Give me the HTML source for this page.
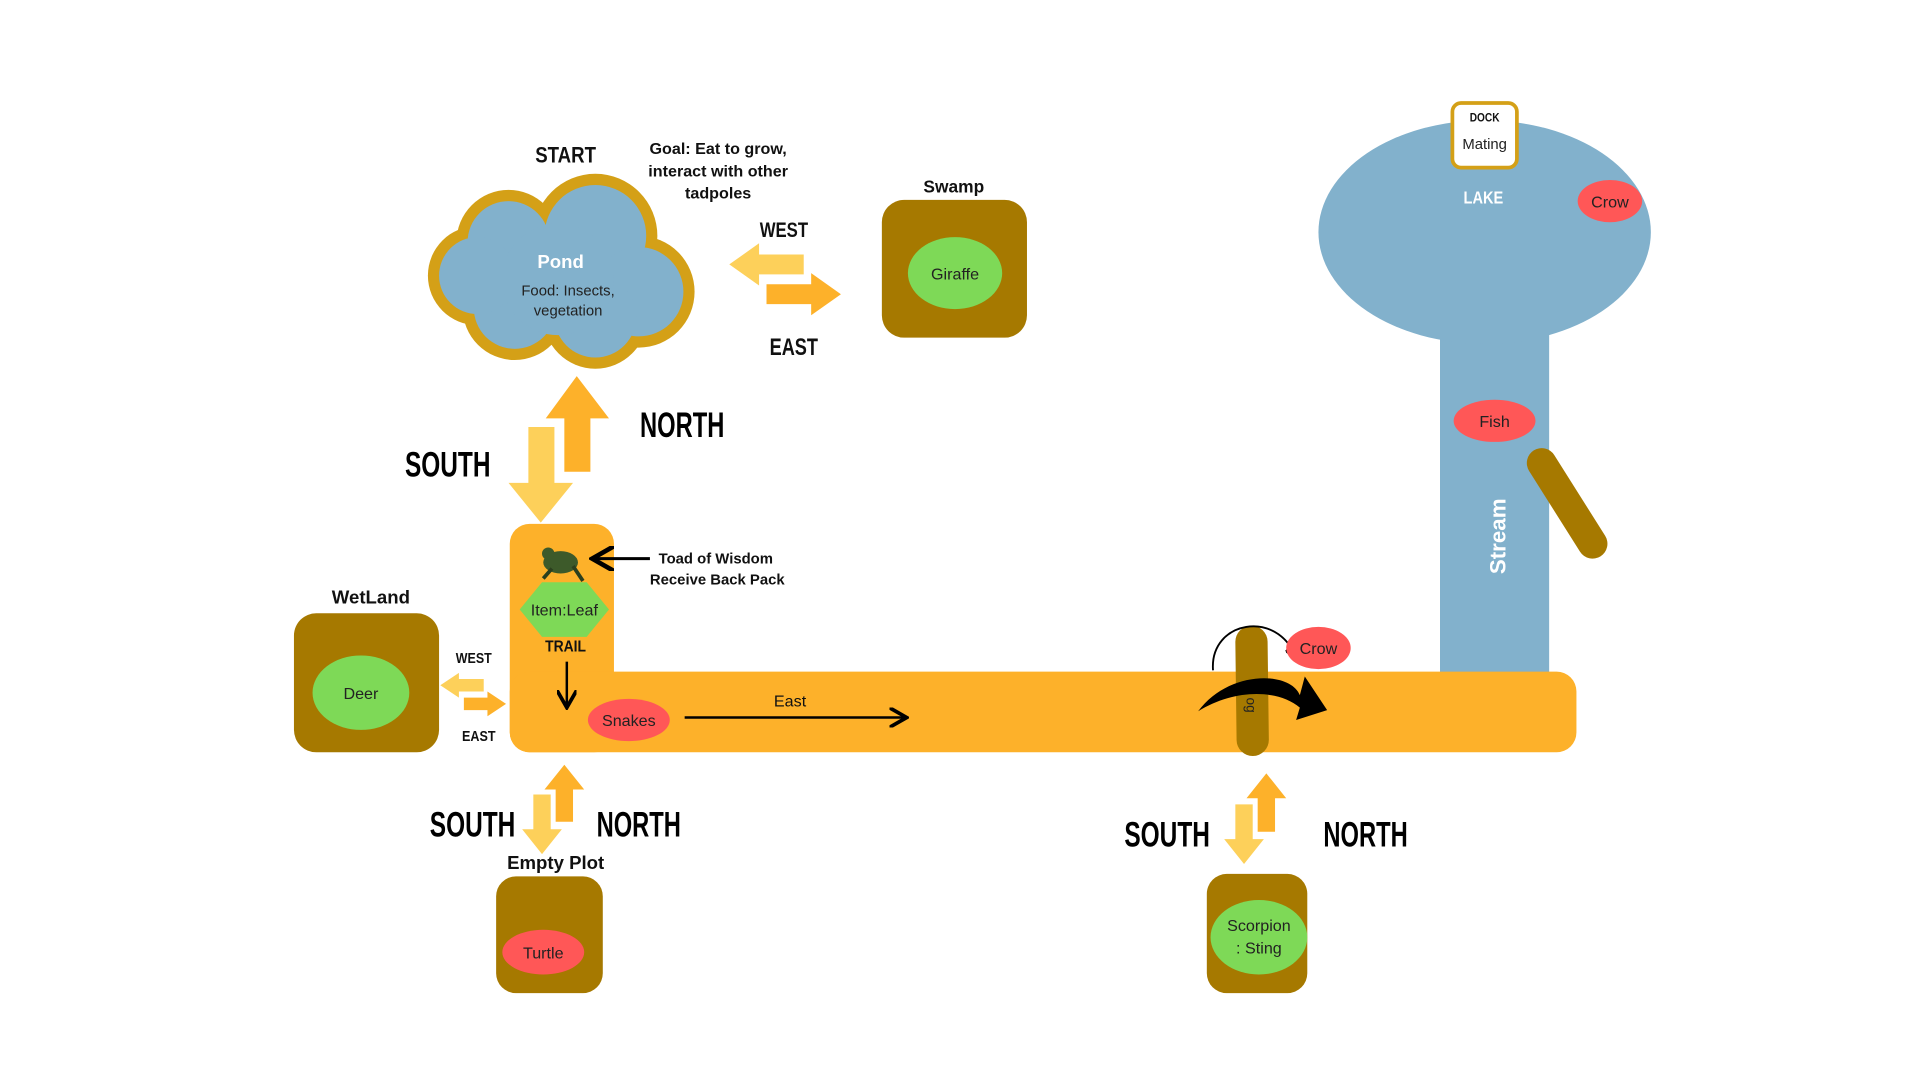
<!DOCTYPE html>
<html><head><meta charset="utf-8"><style>
html,body{margin:0;padding:0;background:#fff;width:1920px;height:1080px;overflow:hidden}
svg{display:block}
text{font-family:"Liberation Sans",sans-serif}
.h{font-weight:bold;fill:#111}
.big{font-size:28px;font-weight:bold;fill:#000}
</style></head><body>
<svg width="1920" height="1080" viewBox="0 0 1548 870" preserveAspectRatio="none">
<defs>
<marker id="ah" markerWidth="8" markerHeight="8" refX="6" refY="4" orient="auto"><path d="M0,0 L7,4 L0,8" fill="none" stroke="#000" stroke-width="1.5"/></marker>
</defs>
<g>
<rect x="1161" y="235" width="88" height="310" fill="#82b1cc"/>
<ellipse cx="1197" cy="187" rx="134" ry="90" fill="#82b1cc"/>
<rect x="1171" y="83" width="52" height="52" rx="7" fill="#fff" stroke="#d4a017" stroke-width="3"/>
<text x="1197" y="98" text-anchor="middle" font-size="10" class="h" textLength="24" lengthAdjust="spacingAndGlyphs">DOCK</text>
<text x="1197" y="120" text-anchor="middle" font-size="12" fill="#222">Mating</text>
<text x="1196" y="164" text-anchor="middle" font-size="14" font-weight="bold" fill="#fff" textLength="32" lengthAdjust="spacingAndGlyphs">LAKE</text>
<ellipse cx="1298" cy="162" rx="26" ry="17" fill="#ff5757"/>
<text x="1298" y="167" text-anchor="middle" font-size="13" fill="#222">Crow</text>
<ellipse cx="1205" cy="339" rx="33" ry="17" fill="#ff5757"/>
<text x="1205" y="344" text-anchor="middle" font-size="13" fill="#222">Fish</text>
<text transform="translate(1214,432) rotate(-90)" text-anchor="middle" font-size="18" font-weight="bold" fill="#fff">Stream</text>
<line x1="1243" y1="373" x2="1284" y2="438" stroke="#a67900" stroke-width="24" stroke-linecap="round"/>
</g>
<g>
<rect x="411" y="422" width="84" height="184" rx="16" fill="#fdb12a"/>
<rect x="411" y="541" width="860" height="65" rx="16" fill="#fdb12a"/>
</g>
<g>
<g fill="#d4a017">
<circle cx="410" cy="195" r="42"/><circle cx="480" cy="190" r="50"/><circle cx="515" cy="235" r="45"/><circle cx="480" cy="255" r="42"/><circle cx="415" cy="248" r="42"/><circle cx="385" cy="222" r="40"/><circle cx="450" cy="225" r="50"/>
</g>
<g fill="#82b1cc">
<circle cx="410" cy="195" r="33"/><circle cx="480" cy="190" r="41"/><circle cx="515" cy="235" r="36"/><circle cx="480" cy="255" r="33"/><circle cx="415" cy="248" r="33"/><circle cx="385" cy="222" r="31"/><circle cx="450" cy="225" r="45"/>
</g>
<text x="452" y="216" text-anchor="middle" font-size="15" font-weight="bold" fill="#fff">Pond</text>
<text x="458" y="238" text-anchor="middle" font-size="12" fill="#222">Food: Insects,</text>
<text x="458" y="254" text-anchor="middle" font-size="12" fill="#222">vegetation</text>
</g>
<text x="456" y="131" text-anchor="middle" font-size="18" class="h" textLength="49" lengthAdjust="spacingAndGlyphs">START</text>
<g font-size="13" class="h" text-anchor="middle">
<text x="579" y="124">Goal: Eat to grow,</text><text x="579" y="142">interact with other</text><text x="579" y="160">tadpoles</text></g>
<text x="769" y="155" text-anchor="middle" font-size="14" class="h">Swamp</text>
<rect x="711" y="161" width="117" height="111" rx="18" fill="#a67900"/>
<ellipse cx="770" cy="220" rx="38" ry="29" fill="#7ed957"/>
<text x="770" y="225" text-anchor="middle" font-size="13" fill="#222">Giraffe</text>
<path d="M588,213 L612,196 L612,205 L648,205 L648,221 L612,221 L612,230 Z" fill="#fdd05a"/>
<path d="M678,237 L654,220 L654,229 L618,229 L618,245 L654,245 L654,254 Z" fill="#fdb12a"/>
<text x="632" y="191" text-anchor="middle" font-size="17" class="h" textLength="39" lengthAdjust="spacingAndGlyphs">WEST</text>
<text x="640" y="286" text-anchor="middle" font-size="19" class="h" textLength="39" lengthAdjust="spacingAndGlyphs">EAST</text>
<path d="M465,303 L491,337 L476,337 L476,380 L455,380 L455,337 L440,337 Z" fill="#fdb12a"/>
<path d="M436,421 L410,389 L426,389 L426,344 L447,344 L447,389 L462,389 Z" fill="#fdd05a"/>
<text x="361" y="384" text-anchor="middle" class="big" textLength="69" lengthAdjust="spacingAndGlyphs">SOUTH</text>
<text x="550" y="352" text-anchor="middle" class="big" textLength="68" lengthAdjust="spacingAndGlyphs">NORTH</text>
<g>
<ellipse cx="452" cy="453" rx="14" ry="9" fill="#3d5a2a"/><circle cx="442" cy="446" r="5" fill="#3d5a2a"/>
<path d="M462,456 L470,468 M445,458 L438,466" stroke="#2b3f1e" stroke-width="3"/>
</g>
<line x1="524" y1="450" x2="480" y2="450" stroke="#000" stroke-width="2.5" marker-end="url(#ah)"/>
<text x="531" y="454" font-size="12" class="h">Toad of Wisdom</text>
<text x="524" y="471" font-size="12" class="h">Receive Back Pack</text>
<polygon points="437,469 473,469 491,491 473,513 437,513 419,491" fill="#7ed957"/>
<text x="455" y="496" text-anchor="middle" font-size="13" fill="#222">Item:Leaf</text>
<text x="456" y="525" text-anchor="middle" font-size="13" class="h" textLength="33" lengthAdjust="spacingAndGlyphs">TRAIL</text>
<line x1="457" y1="533" x2="457" y2="568" stroke="#000" stroke-width="2" marker-end="url(#ah)"/>
<ellipse cx="507" cy="580" rx="33" ry="17" fill="#ff5757"/>
<text x="507" y="585" text-anchor="middle" font-size="13" fill="#222">Snakes</text>
<line x1="552" y1="578" x2="729" y2="578" stroke="#000" stroke-width="2" marker-end="url(#ah)"/>
<text x="637" y="569" text-anchor="middle" font-size="13" fill="#111">East</text>
<text x="299" y="486" text-anchor="middle" font-size="15" class="h">WetLand</text>
<rect x="237" y="494" width="117" height="112" rx="18" fill="#a67900"/>
<ellipse cx="291" cy="558" rx="39" ry="30" fill="#7ed957"/>
<text x="291" y="563" text-anchor="middle" font-size="13" fill="#222">Deer</text>
<path d="M355,552 L370,542 L370,547 L390,547 L390,557 L370,557 L370,562 Z" fill="#fdd05a"/>
<path d="M408,567 L393,557 L393,562 L374,562 L374,572 L393,572 L393,577 Z" fill="#fdb12a"/>
<text x="382" y="534" text-anchor="middle" font-size="12" class="h" textLength="29" lengthAdjust="spacingAndGlyphs">WEST</text>
<text x="386" y="597" text-anchor="middle" font-size="12" class="h" textLength="27" lengthAdjust="spacingAndGlyphs">EAST</text>
<path d="M455,616 L471,636 L462,636 L462,662 L448,662 L448,636 L439,636 Z" fill="#fdb12a"/>
<path d="M437,688 L421,668 L430,668 L430,640 L444,640 L444,668 L453,668 Z" fill="#fdd05a"/>
<text x="381" y="674" text-anchor="middle" class="big" textLength="69" lengthAdjust="spacingAndGlyphs">SOUTH</text>
<text x="515" y="674" text-anchor="middle" class="big" textLength="68" lengthAdjust="spacingAndGlyphs">NORTH</text>
<text x="448" y="700" text-anchor="middle" font-size="15" class="h">Empty Plot</text>
<rect x="400" y="706" width="86" height="94" rx="16" fill="#a67900"/>
<ellipse cx="438" cy="767" rx="33" ry="18" fill="#ff5757"/>
<text x="438" y="772" text-anchor="middle" font-size="13" fill="#222">Turtle</text>
<line x1="1009" y1="517" x2="1010" y2="596" stroke="#a67900" stroke-width="26" stroke-linecap="round"/>
<path d="M978,540 C975,500 1030,490 1045,530" fill="none" stroke="#000" stroke-width="1.5" marker-end="url(#ah)"/>
<path d="M966,573 C990,540 1040,540 1048,560 L1052,545 L1070,572 L1045,580 L1048,570 C1030,555 995,555 966,573 Z" fill="#000"/>
<text transform="translate(1005,568) rotate(90)" text-anchor="middle" font-size="11" fill="#222">og</text>
<ellipse cx="1063" cy="522" rx="26" ry="17" fill="#ff5757"/>
<text x="1063" y="527" text-anchor="middle" font-size="13" fill="#222">Crow</text>
<path d="M1021,623 L1037,643 L1028,643 L1028,670 L1014,670 L1014,643 L1005,643 Z" fill="#fdb12a"/>
<path d="M1003,696 L987,676 L996,676 L996,648 L1010,648 L1010,676 L1019,676 Z" fill="#fdd05a"/>
<text x="941" y="682" text-anchor="middle" class="big" textLength="69" lengthAdjust="spacingAndGlyphs">SOUTH</text>
<text x="1101" y="682" text-anchor="middle" class="big" textLength="68" lengthAdjust="spacingAndGlyphs">NORTH</text>
<rect x="973" y="704" width="81" height="96" rx="16" fill="#a67900"/>
<ellipse cx="1015" cy="755" rx="39" ry="30" fill="#7ed957"/>
<text x="1015" y="750" text-anchor="middle" font-size="13" fill="#222">Scorpion</text>
<text x="1015" y="768" text-anchor="middle" font-size="13" fill="#222">: Sting</text>
</svg>
</body></html>
